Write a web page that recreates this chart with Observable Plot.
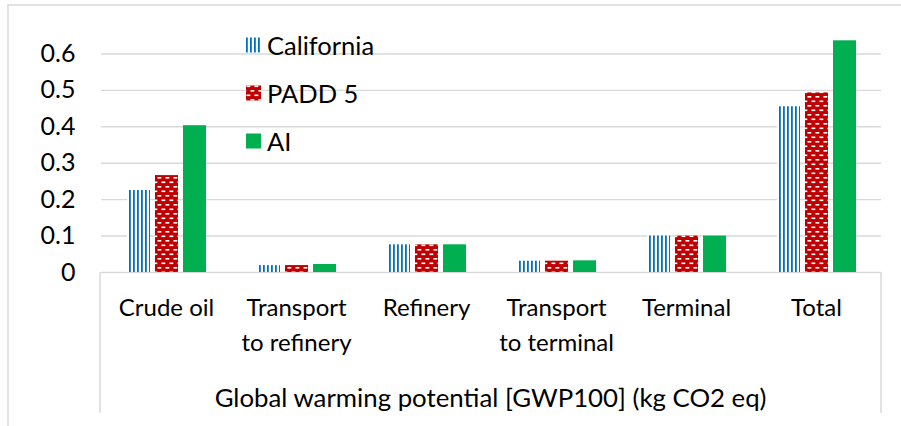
<!DOCTYPE html>
<html>
<head>
<meta charset="utf-8">
<script src="https://cdn.jsdelivr.net/npm/d3@7"></script>
<script src="https://cdn.jsdelivr.net/npm/@observablehq/plot@0.6"></script>
<style>
  html, body { margin: 0; padding: 0; background: #fff; }
  #chart { width: 901px; height: 426px; overflow: hidden; }
</style>
</head>
<body>
<div id="chart"></div>
<script>
// ---- Data ----
const categories = ["Crude oil", "Transport\nto refinery", "Refinery", "Transport\nto terminal", "Terminal", "Total"];
const series = ["California", "PADD 5", "AI"];
const california = [0.225, 0.019, 0.076, 0.031, 0.100, 0.455];
const padd5 = [0.266, 0.019, 0.076, 0.031, 0.100, 0.493];
const ai = [0.403, 0.022, 0.076, 0.032, 0.100, 0.636];
const yTicks = [0, 0.1, 0.2, 0.3, 0.4, 0.5, 0.6];
const axisTitle = "Global warming potential [GWP100] (kg CO2 eq)";

const seriesValues = [california, padd5, ai];
const rows = [];
series.forEach((s, si) => categories.forEach((c, ci) => rows.push({series: s, category: c, value: seriesValues[si][ci]})));
const fills = {"California": "url(#patCal)", "PADD 5": "url(#patPadd)", "AI": "#00B050"};

const FONT = "Lato, 'Open Sans', sans-serif";
const GRID = "#D9D9D9";

const chart = Plot.plot({
  width: 901,
  height: 426,
  marginLeft: 100,
  marginRight: 20,
  marginTop: 17,
  marginBottom: 154,
  style: {fontFamily: FONT, color: "#000", background: "#fff"},
  fx: {domain: categories, padding: 0, label: null},
  x: {domain: series, paddingInner: 0.19, paddingOuter: 0.84, axis: null},
  y: {domain: [0, 0.7], axis: null, label: null},
  marks: [
    Plot.gridY(yTicks.filter(d => d > 0), {stroke: GRID, strokeOpacity: 1, strokeWidth: 1.4}),
    Plot.ruleY([0], {stroke: GRID, strokeWidth: 1.4}),
    ...series.map(s => Plot.barY(rows.filter(d => d.series === s), {
      fx: "category", x: "series", y: "value", fill: fills[s], inset: 0
    })),
    Plot.axisY({ticks: yTicks, tickSize: 0, tickPadding: 26, fontSize: 25, label: null,
      tickFormat: d => d === 0 ? "0" : d3.format(".1f")(d)}),
    Plot.axisFx({anchor: "bottom", tickSize: 0, tickPadding: 19, fontSize: 24, lineHeight: 1.45, label: null})
  ]
});

const svg = d3.select(chart);
// Patterns
const defs = svg.insert("defs", ":first-child");
const pc = defs.append("pattern").attr("id", "patCal").attr("patternUnits", "userSpaceOnUse")
  .attr("width", 4).attr("height", 4);
pc.append("rect").attr("width", 4).attr("height", 4).attr("fill", "#fff");
pc.append("rect").attr("x", 0).attr("width", 1.8).attr("height", 4).attr("fill", "#0070C0");
const pp = defs.append("pattern").attr("id", "patPadd").attr("patternUnits", "userSpaceOnUse")
  .attr("width", 8).attr("height", 9);
pp.append("rect").attr("width", 8).attr("height", 9).attr("fill", "#C00000");
pp.append("rect").attr("x", 0.5).attr("y", 1.5).attr("width", 3.8).attr("height", 1.6).attr("fill", "#fff");
pp.append("rect").attr("x", 4.5).attr("y", 6).attr("width", 3.8).attr("height", 1.6).attr("fill", "#fff");
pp.append("rect").attr("x", -3.5).attr("y", 6).attr("width", 3.8).attr("height", 1.6).attr("fill", "#fff");

// Frame decorations derived from scales
const fxRange = chart.scale("fx").range;
const y0 = chart.scale("y").apply(0);
const deco = svg.append("g").attr("stroke", GRID).attr("stroke-width", 1.5).attr("fill", "none");
deco.append("path").attr("d", `M${fxRange[0]},${y0}V413M${fxRange[1]},${y0}V413`);
deco.append("path").attr("d", `M8,430V5H905`);

// Axis title
svg.append("text").attr("x", (fxRange[0] + fxRange[1]) / 2).attr("y", 397)
  .attr("text-anchor", "middle").attr("dominant-baseline", "central")
  .attr("font-size", 25.8).attr("font-family", FONT).attr("fill", "#000").text(axisTitle);

// Legend
const leg = svg.append("g").attr("font-family", FONT).attr("font-size", 25.5).attr("text-anchor", "start");
series.forEach((s, i) => {
  const cy = 45 + i * 48;
  const g = leg.append("g").attr("transform", `translate(246,${cy})`);
  g.append("rect").attr("x", 0).attr("y", -7.5).attr("width", 15).attr("height", 15).attr("fill", fills[s]);
  g.append("text").attr("x", 21).attr("y", 0).attr("dominant-baseline", "central").attr("fill", "#000").text(s);
});

document.getElementById("chart").appendChild(chart);
</script>
</body>
</html>
